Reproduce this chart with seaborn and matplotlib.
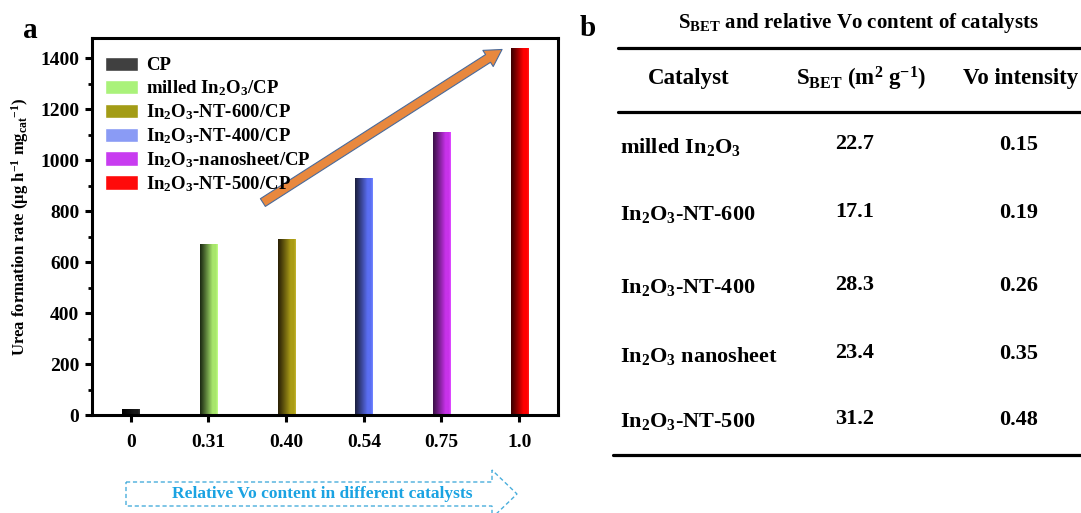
import numpy as np
import pandas as pd
import matplotlib
matplotlib.use("Agg")
import matplotlib.pyplot as plt
import seaborn as sns
from matplotlib.colors import to_rgb
from matplotlib.lines import Line2D
from matplotlib.patches import Polygon

# ---- data -------------------------------------------------------------
vo_labels = ["0", "0.31", "0.40", "0.54", "0.75", "1.0"]
catalysts = ["CP", "milled In$_2$O$_3$/CP", "In$_2$O$_3$-NT-600/CP",
             "In$_2$O$_3$-NT-400/CP", "In$_2$O$_3$-nanosheet/CP",
             "In$_2$O$_3$-NT-500/CP"]
urea_rate = [25, 670, 690, 930, 1110, 1440]

table_names = ["milled In$_2$O$_3$", "In$_2$O$_3$-NT-600", "In$_2$O$_3$-NT-400",
               "In$_2$O$_3$ nanosheet", "In$_2$O$_3$-NT-500"]
s_bet = ["22.7", "17.1", "28.3", "23.4", "31.2"]
vo_intensity = ["0.15", "0.19", "0.26", "0.35", "0.48"]

# ---- style ------------------------------------------------------------
legend_colors = ["#404040", "#aaf27a", "#a39c16", "#8a9bf5", "#c83cf0", "#ff0a0a"]
bar_dark = ["#000000", "#1c2a12", "#2a2006", "#1c2040", "#3c1048", "#3a0000"]
bar_light = ["#1a1a1a", "#a8e66c", "#aa9c16", "#5a6ef2", "#c832ea", "#ff0000"]

sns.set_theme(style="ticks")
plt.rcParams["font.family"] = ["Liberation Serif", "DejaVu Serif"]
plt.rcParams["font.weight"] = "bold"
plt.rcParams["mathtext.fontset"] = "custom"
plt.rcParams["mathtext.rm"] = "Liberation Serif:bold"
plt.rcParams["mathtext.it"] = "Liberation Serif:bold"
plt.rcParams["mathtext.bf"] = "Liberation Serif:bold"
for key in ["text.color", "axes.labelcolor", "axes.edgecolor",
            "xtick.color", "ytick.color"]:
    plt.rcParams[key] = "black"

W, H = 1081, 513
fx = lambda px: px / W
fy = lambda py: 1 - py / H

fig = plt.figure(figsize=(W / 100, H / 100), dpi=100)
fig.patch.set_facecolor("white")
ax = fig.add_axes([fx(92), fy(415), fx(558) - fx(92), (415 - 38) / H])

df = pd.DataFrame({"vo": vo_labels, "rate": urea_rate, "catalyst": catalysts})
sns.barplot(data=df, x="vo", y="rate", hue="catalyst", order=vo_labels,
            hue_order=catalysts, palette=legend_colors, dodge=False,
            width=0.22, saturation=1, ax=ax, legend=True)

# horizontal shading on each bar (dark left edge -> bright right edge)
t = np.linspace(0, 1, 80)
ramp = np.clip(t / 0.7, 0, 1) ** 1.1
for patch in list(ax.patches):
    w = patch.get_width()
    h = patch.get_height()
    if w <= 0 or h <= 0:
        continue
    x0 = patch.get_x()
    idx = int(round(x0 + w / 2))
    d = np.array(to_rgb(bar_dark[idx]))
    l = np.array(to_rgb(bar_light[idx]))
    grad = d[None, :] + (l - d)[None, :] * ramp[:, None]
    grad[-6:] = np.clip(grad[-6:] + 0.08, 0, 1)
    im = ax.imshow(grad[None, :, :], extent=[x0, x0 + w, 0, h], aspect="auto",
                   zorder=patch.get_zorder() + 0.1, interpolation="bilinear")
    im.set_clip_path(patch)

ax.set_xlim(-0.5, 5.5)
ax.set_ylim(0, 1480)
ax.set_yticks(np.arange(0, 1401, 200))
ax.set_yticks(np.arange(100, 1401, 200), minor=True)
ax.set_xlabel("")
ax.set_ylabel("Urea formation rate (μg h$^{-1}$ mg$_{\\mathrm{cat}}$$^{-1}$)",
              fontsize=12, fontweight="bold", labelpad=7)
for s in ax.spines.values():
    s.set_linewidth(2.2)
    s.set_color("black")
    s.set_visible(True)
ax.tick_params(axis="both", which="major", direction="out", length=5, width=2.2,
               labelsize=14, pad=4, color="black")
ax.tick_params(axis="y", which="minor", direction="out", length=3, width=2.0,
               color="black")
for lab in ax.get_xticklabels() + ax.get_yticklabels():
    lab.set_fontweight("bold")
ax.tick_params(axis="x", pad=9)

handles, labels = ax.get_legend_handles_labels()
ax.legend(handles, labels, loc="upper left", bbox_to_anchor=(-0.005, 0.99),
          frameon=False, handlelength=1.8, handleheight=0.8,
          labelspacing=0.22, handletextpad=0.4, borderaxespad=0.4,
          prop={"weight": "bold", "size": 13.5})

# trend arrow
ax.annotate("", xy=(4.78, 1435), xytext=(1.7, 834), xycoords="data",
            arrowprops=dict(arrowstyle="simple,head_width=1.15,head_length=1.0,tail_width=0.55",
                            fc="#e8883e", ec="#4a6a9a", lw=0.8,
                            shrinkA=0, shrinkB=0, mutation_scale=12),
            zorder=5)

# dashed arrow banner under the x axis
banner = [(126, 482), (492, 482), (492, 470), (517, 494), (492, 518),
          (492, 506), (126, 506)]
fig.patches.append(Polygon([(fx(x), fy(y)) for x, y in banner], closed=True,
                           transform=fig.transFigure, fill=False,
                           ec="#4aaedc", lw=1.0, ls=(0, (3, 2))))
fig.text(fx(322), fy(494), "Relative Vo content in different catalysts",
         ha="center", va="center", fontsize=12.5, fontweight="bold",
         color="#1aa3e2")

# panel letters
fig.text(fx(30), fy(30), "a", ha="center", va="center", fontsize=21, fontweight="bold")
fig.text(fx(588), fy(28), "b", ha="center", va="center", fontsize=21, fontweight="bold")

# ---- table (panel b) --------------------------------------------------
fig.text(fx(858), fy(23), "S$_{\\mathrm{BET}}$ and relative Vo content of catalysts",
         ha="center", va="center", fontsize=15, fontweight="bold")
for y0, xs in [(48, 618), (112, 618), (455, 613)]:
    fig.add_artist(Line2D([fx(xs), fx(1081)], [fy(y0), fy(y0)], color="black",
                          lw=2.3, transform=fig.transFigure))
fig.text(fx(689), fy(79), "Catalyst", ha="center", va="center", fontsize=16.5,
         fontweight="bold")
fig.text(fx(861), fy(79), "S$_{\\mathrm{BET}}$ (m$^2$ g$^{-1}$)", ha="center",
         va="center", fontsize=16.5, fontweight="bold")
fig.text(fx(1021), fy(79), "Vo intensity", ha="center", va="center",
         fontsize=16.5, fontweight="bold")

row_y = [147, 215, 288, 356, 422]
for y0, name, sb, vo in zip(row_y, table_names, s_bet, vo_intensity):
    fig.text(fx(620), fy(y0), name, ha="left", va="center", fontsize=16,
             fontweight="bold")
    fig.text(fx(855), fy(y0 - 3), sb, ha="center", va="center", fontsize=16,
             fontweight="bold")
    fig.text(fx(1019), fy(y0 - 2), vo, ha="center", va="center", fontsize=16,
             fontweight="bold")

fig.savefig("out.png", dpi=100, facecolor="white")
